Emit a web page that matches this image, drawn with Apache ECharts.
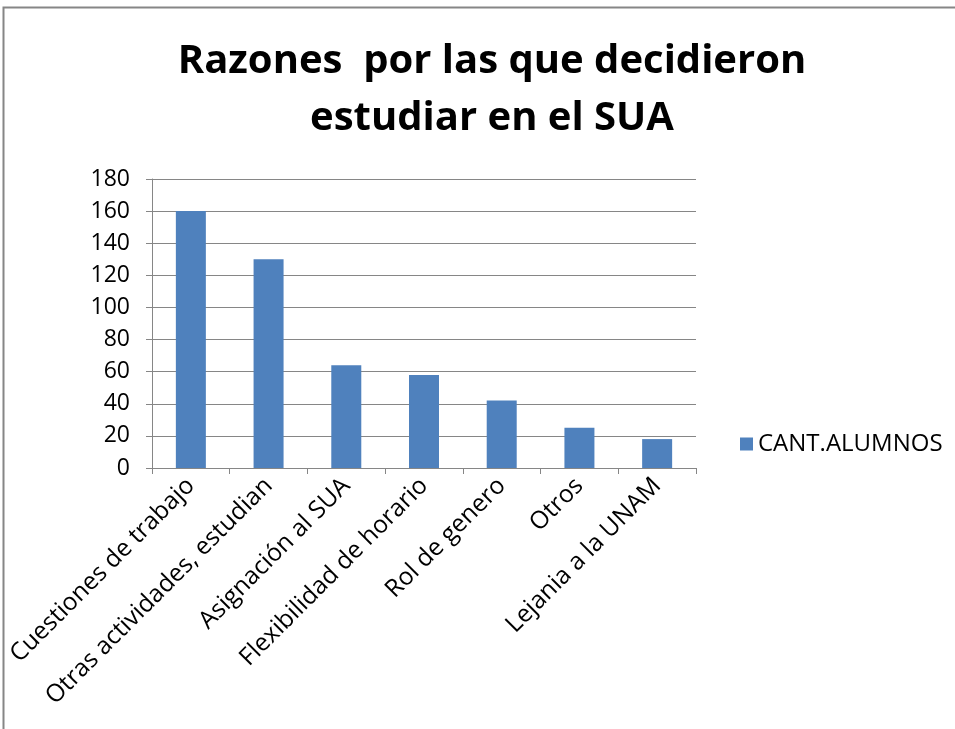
<!DOCTYPE html>
<html>
<head>
<meta charset="utf-8">
<script src="https://cdn.jsdelivr.net/npm/echarts@6/dist/echarts.min.js"></script>
<style>
  html, body { margin: 0; padding: 0; background: #fff; }
  #chart { width: 955px; height: 729px; }
</style>
</head>
<body>
<div id="chart"></div>
<script>
// datos
const categorias = ['Cuestiones de trabajo', 'Otras actividades, estudian', 'Asignación al SUA',
  'Flexibilidad de horario', 'Rol de genero', 'Otros', 'Lejania a la UNAM'];
const alumnos = [160, 130, 64, 58, 42, 25, 18];
const serieNombre = 'CANT.ALUMNOS';
const titulo = 'Razones  por las que decidieron\nestudiar en el SUA';

const fuente = '"Open Sans", "Liberation Sans", sans-serif';
let myChart = echarts.init(document.getElementById('chart'));
myChart.setOption({
  animation: false,
  graphic: [{
    type: 'rect',
    shape: { x: 3.5, y: 7.5, width: 1000, height: 800 },
    style: { fill: 'none', stroke: '#868686', lineWidth: 2 }
  }],
  title: {
    text: titulo,
    left: 487,
    textAlign: 'center',
    top: 28,
    textStyle: { fontFamily: fuente, fontWeight: 'bold', fontSize: 40, lineHeight: 57, color: '#000' }
  },
  legend: {
    data: [serieNombre],
    orient: 'vertical',
    left: 735,
    top: 427,
    itemWidth: 13,
    itemHeight: 13,
    itemGap: 6,
    icon: 'rect',
    textStyle: { fontFamily: fuente, fontSize: 24, color: '#000' }
  },
  grid: { left: 152, right: 259, top: 179, bottom: 261 },
  xAxis: {
    type: 'category',
    data: categorias,
    axisLine: { lineStyle: { color: '#868686', width: 1 } },
    axisTick: { show: true, length: 6, lineStyle: { color: '#868686' } },
    axisLabel: { rotate: 45, fontFamily: fuente, fontSize: 24.5, color: '#000', margin: 14, interval: 0 }
  },
  yAxis: {
    type: 'value',
    min: 0,
    max: 180,
    interval: 20,
    axisLine: { show: true, lineStyle: { color: '#868686', width: 1 } },
    axisTick: { show: true, length: 6, inside: false, lineStyle: { color: '#868686' } },
    splitLine: { lineStyle: { color: '#868686', width: 1 } },
    axisLabel: { fontFamily: fuente, fontSize: 23, color: '#000', margin: 22 }
  },
  series: [{
    name: serieNombre,
    type: 'bar',
    data: alumnos,
    barWidth: 30,
    itemStyle: { color: '#4F81BD' }
  }]
});
</script>
</body>
</html>
